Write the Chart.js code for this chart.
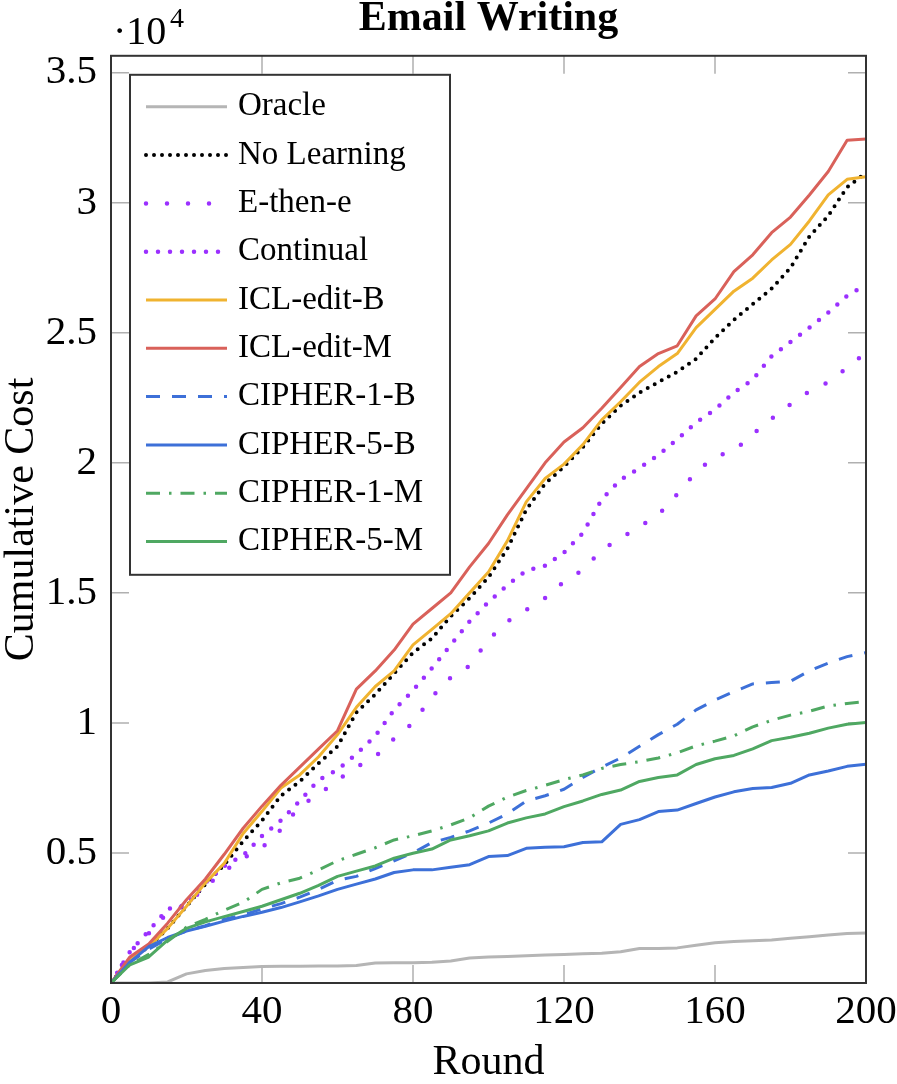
<!DOCTYPE html>
<html>
<head>
<meta charset="utf-8">
<script src="https://cdn.jsdelivr.net/npm/chart.js@4.4.1/dist/chart.umd.min.js"></script>
<style>
html,body{margin:0;padding:0;background:#fff;}
#wrap{width:897px;height:1084px;position:relative;}
</style>
</head>
<body>
<div id="wrap"><canvas id="c" width="897" height="1084"></canvas></div>
<script>
// ---- data (values in units of 10^4) ----
const rounds = [0,5,10,15,20,25,30,35,40,45,50,55,60,65,70,75,80,85,90,95,100,105,110,115,120,125,130,135,140,145,150,155,160,165,170,175,180,185,190,195,200];
const oracle = [0,0,0,0.004,0.035,0.048,0.056,0.06,0.063,0.064,0.064,0.065,0.065,0.067,0.077,0.078,0.078,0.08,0.085,0.096,0.1,0.102,0.105,0.108,0.11,0.112,0.114,0.12,0.133,0.133,0.135,0.145,0.155,0.16,0.162,0.165,0.172,0.178,0.185,0.19,0.192];
const noLearning = [0,0.09,0.14,0.21,0.295,0.38,0.455,0.545,0.625,0.72,0.775,0.845,0.91,1.04,1.11,1.19,1.27,1.325,1.41,1.48,1.56,1.67,1.82,1.92,1.985,2.06,2.15,2.22,2.27,2.31,2.35,2.4,2.48,2.55,2.61,2.67,2.75,2.87,2.95,3.06,3.115];
const eThenE = [0,0.12,0.19,0.27,0.3,0.37,0.43,0.48,0.52,0.59,0.68,0.725,0.78,0.83,0.87,0.94,1.0,1.1,1.175,1.22,1.32,1.39,1.435,1.48,1.543,1.588,1.665,1.71,1.755,1.8,1.88,1.965,2.025,2.045,2.11,2.17,2.225,2.275,2.31,2.365,2.425];
const continual = [0,0.12,0.2,0.285,0.3,0.385,0.45,0.49,0.565,0.625,0.7,0.78,0.82,0.88,0.95,1.05,1.125,1.21,1.3,1.39,1.465,1.53,1.585,1.605,1.655,1.73,1.86,1.935,1.98,2.03,2.09,2.155,2.205,2.27,2.32,2.41,2.465,2.52,2.578,2.642,2.685];
const iclEditB = [0,0.09,0.14,0.21,0.295,0.385,0.46,0.575,0.66,0.75,0.8,0.87,0.955,1.06,1.14,1.2,1.3,1.36,1.42,1.5,1.58,1.7,1.85,1.94,1.995,2.07,2.165,2.235,2.31,2.37,2.42,2.52,2.59,2.66,2.71,2.78,2.84,2.93,3.03,3.09,3.1];
const iclEditM = [0,0.1,0.15,0.23,0.32,0.4,0.495,0.595,0.68,0.76,0.83,0.9,0.97,1.13,1.2,1.28,1.38,1.44,1.5,1.6,1.69,1.8,1.9,2.0,2.08,2.135,2.21,2.29,2.37,2.42,2.45,2.565,2.63,2.735,2.8,2.885,2.945,3.03,3.12,3.24,3.245];
const cipher1B = [0,0.08,0.13,0.17,0.2,0.22,0.245,0.262,0.285,0.305,0.33,0.36,0.395,0.41,0.44,0.47,0.5,0.54,0.56,0.585,0.615,0.65,0.7,0.72,0.745,0.79,0.83,0.865,0.91,0.955,0.995,1.05,1.088,1.12,1.15,1.155,1.16,1.2,1.23,1.255,1.27];
const cipher5B = [0,0.08,0.14,0.175,0.2,0.218,0.238,0.256,0.272,0.29,0.312,0.335,0.36,0.38,0.4,0.425,0.435,0.435,0.445,0.455,0.486,0.49,0.518,0.522,0.524,0.54,0.543,0.61,0.628,0.659,0.665,0.69,0.715,0.735,0.748,0.752,0.768,0.8,0.815,0.833,0.841];
const cipher1M = [0,0.07,0.11,0.16,0.215,0.245,0.28,0.31,0.36,0.385,0.403,0.435,0.47,0.495,0.52,0.55,0.566,0.585,0.608,0.635,0.68,0.715,0.74,0.76,0.782,0.8,0.825,0.84,0.851,0.865,0.885,0.912,0.93,0.95,0.985,1.01,1.03,1.045,1.065,1.075,1.082];
const cipher5M = [0,0.07,0.1,0.165,0.21,0.235,0.255,0.275,0.295,0.32,0.345,0.375,0.41,0.43,0.45,0.48,0.499,0.515,0.55,0.566,0.585,0.615,0.635,0.65,0.678,0.7,0.725,0.742,0.775,0.79,0.8,0.84,0.862,0.875,0.9,0.932,0.945,0.96,0.98,0.995,1.002];

const seriesNames = ['Oracle','No Learning','E-then-e','Continual','ICL-edit-B','ICL-edit-M','CIPHER-1-B','CIPHER-5-B','CIPHER-1-M','CIPHER-5-M'];
const seriesValues = [oracle, noLearning, eThenE, continual, iclEditB, iclEditM, cipher1B, cipher5B, cipher1M, cipher5M];

const xTicks = [0,40,80,120,160,200];
const xTickLabels = ['0','40','80','120','160','200'];
const yTicks = [0.5,1,1.5,2,2.5,3,3.5];
const yTickLabels = ['0.5','1','1.5','2','2.5','3','3.5'];

// ---- styles ----
const styles = [
  {color:'#b5b5b5', width:3, dash:[], cap:'butt'},
  {color:'#000000', width:4, dash:[0,8], cap:'round'},
  {color:'#9b30ff', width:4.5, dash:[0,21], cap:'round'},
  {color:'#9b30ff', width:4.5, dash:[0,12], cap:'round'},
  {color:'#f0b330', width:3, dash:[], cap:'butt'},
  {color:'#d9615a', width:3, dash:[], cap:'butt'},
  {color:'#3d70d8', width:3, dash:[14,12], cap:'butt'},
  {color:'#3d70d8', width:3, dash:[], cap:'butt'},
  {color:'#4fa862', width:3, dash:[14,9,2.5,9], cap:'butt'},
  {color:'#4fa862', width:3, dash:[], cap:'butt'}
];

const FONT = 'Liberation Serif';

const datasets = seriesNames.map((name, i) => ({
  label: name,
  data: rounds.map((r, k) => ({x: r, y: seriesValues[i][k]})),
  borderColor: styles[i].color,
  backgroundColor: styles[i].color,
  borderWidth: styles[i].width,
  borderDash: styles[i].dash,
  borderCapStyle: styles[i].cap,
  borderJoinStyle: 'round',
  pointRadius: 0,
  pointHoverRadius: 0,
  tension: 0,
  fill: false,
  order: -i
}));

const frameTicks = {
  id: 'frameTicks',
  beforeDatasetsDraw(chart) {
    const {ctx, chartArea: a, scales: {x, y}} = chart;
    const L = 18;
    ctx.save();
    ctx.strokeStyle = '#b0b0b0';
    ctx.lineWidth = 1.5;
    ctx.beginPath();
    xTicks.forEach(v => {
      if (v <= x.min || v >= x.max) return;
      const px = x.getPixelForValue(v);
      ctx.moveTo(px, a.bottom); ctx.lineTo(px, a.bottom - L);
      ctx.moveTo(px, a.top); ctx.lineTo(px, a.top + L);
    });
    yTicks.forEach(v => {
      const py = y.getPixelForValue(v);
      ctx.moveTo(a.left, py); ctx.lineTo(a.left + L, py);
      ctx.moveTo(a.right, py); ctx.lineTo(a.right - L, py);
    });
    ctx.stroke();
    ctx.restore();
  },
  afterDatasetsDraw(chart) {
    const {ctx, chartArea: a} = chart;
    ctx.save();
    // frame
    ctx.strokeStyle = '#333333';
    ctx.lineWidth = 2;
    ctx.strokeRect(a.left, a.top, a.right - a.left, a.bottom - a.top);

    // multiplier label
    ctx.fillStyle = '#000';
    ctx.textBaseline = 'alphabetic';
    ctx.textAlign = 'left';
    ctx.font = '40px "' + FONT + '"';
    ctx.fillText('\u00B710', 113, 44);
    ctx.font = '28px "' + FONT + '"';
    ctx.fillText('4', 170, 27);

    // legend
    const lx = a.left + 19, ly = a.top + 19, lw = 320, lh = 500;
    ctx.fillStyle = '#ffffff';
    ctx.fillRect(lx, ly, lw, lh);
    ctx.strokeStyle = '#333333';
    ctx.lineWidth = 2;
    ctx.strokeRect(lx, ly, lw, lh);
    ctx.font = '33px "' + FONT + '"';
    ctx.textBaseline = 'middle';
    chart.data.datasets.forEach((ds, i) => {
      const cy = ly + 32 + i * 48.3;
      ctx.save();
      ctx.strokeStyle = ds.borderColor;
      ctx.lineWidth = ds.borderWidth;
      ctx.setLineDash(ds.borderDash || []);
      ctx.lineCap = ds.borderCapStyle || 'butt';
      ctx.beginPath();
      ctx.moveTo(lx + 16, cy);
      ctx.lineTo(lx + 97, cy);
      ctx.stroke();
      ctx.restore();
      ctx.fillStyle = '#000';
      ctx.fillText(ds.label, lx + 108, cy);
    });
    ctx.restore();
  }
};

new Chart(document.getElementById('c'), {
  type: 'line',
  data: { datasets },
  options: {
    responsive: false,
    animation: false,
    devicePixelRatio: 1,
    layout: { padding: { left: 0, right: 31, top: 0, bottom: 0 } },
    plugins: {
      legend: { display: false },
      tooltip: { enabled: false },
      title: {
        display: true,
        text: 'Email Writing',
        fullSize: false,
        color: '#000',
        font: { family: FONT, size: 42, weight: 'bold', lineHeight: 0.9 },
        padding: { top: 0, bottom: 18 }
      }
    },
    scales: {
      x: {
        type: 'linear',
        min: 0, max: 200,
        grid: { display: false, drawTicks: false },
        border: { display: false },
        afterBuildTicks: s => { s.ticks = xTicks.map(v => ({value: v})); },
        afterFit: s => { s.height = 101; s.paddingLeft = 0; s.paddingRight = 0; },
        ticks: {
          autoSkip: false,
          maxRotation: 0,
          padding: 5,
          color: '#000',
          font: { family: FONT, size: 41 },
          callback: v => xTickLabels[xTicks.indexOf(v)]
        },
        title: {
          display: true,
          text: 'Round',
          color: '#000',
          font: { family: FONT, size: 42, lineHeight: 1 },
          padding: { top: 0, bottom: 0 }
        }
      },
      y: {
        type: 'linear',
        min: 0, max: 3.565,
        grid: { display: false, drawTicks: false },
        border: { display: false },
        afterBuildTicks: s => { s.ticks = yTicks.map(v => ({value: v})); },
        afterFit: s => { s.width = 111; },
        ticks: {
          autoSkip: false,
          padding: 14,
          color: '#000',
          font: { family: FONT, size: 41 },
          callback: v => yTickLabels[yTicks.indexOf(v)]
        },
        title: {
          display: true,
          text: 'Cumulative Cost',
          color: '#000',
          font: { family: FONT, size: 42, lineHeight: 1 },
          padding: { top: 1, bottom: 0 }
        }
      }
    }
  },
  plugins: [frameTicks]
});
</script>
</body>
</html>
